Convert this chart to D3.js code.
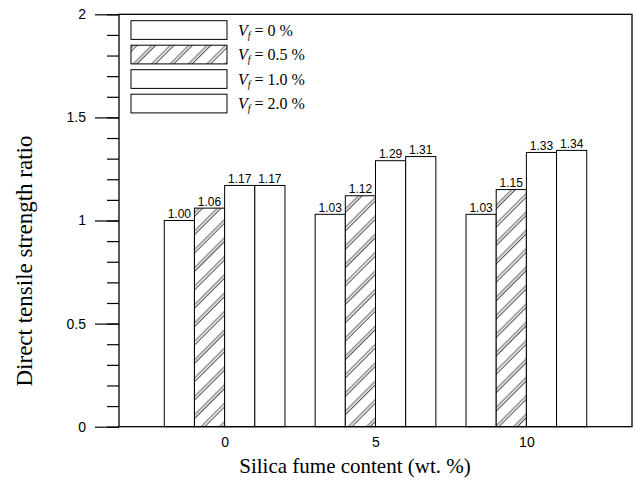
<!DOCTYPE html>
<html>
<head>
<meta charset="utf-8">
<script src="https://cdn.jsdelivr.net/npm/d3@7"></script>
<style>
	body { margin: 0; background: #fff; }
	svg { display: block; }
</style>
</head>
<body>
<div id="container"></div>
<script>
// data
var fumeContent = [0, 5, 10];
var fiberLabels = ["0", "0.5", "1.0", "2.0"];
var ratioVf0 = [1.00, 1.03, 1.03];
var ratioVf05 = [1.06, 1.12, 1.15];
var ratioVf10 = [1.17, 1.29, 1.33];
var ratioVf20 = [1.17, 1.31, 1.34];
var yTickValues = [0, 0.5, 1, 1.5, 2];

function makeChart(){
	var w = 635;
	var h = 488;

	var svg = d3.select("#container")
		.append("svg")
		.attr("width", w)
		.attr("height", h);

	// hatch for the 0.5 % series (pairs of thin diagonal lines)
	var defs = svg.append("defs");
	var pat = defs.append("pattern")
		.attr("id", "hatch")
		.attr("patternUnits", "userSpaceOnUse")
		.attr("width", 13)
		.attr("height", 13)
		.attr("patternTransform", "rotate(45)");
	pat.append("rect").attr("width", 13).attr("height", 13).attr("fill", "#fff");
	pat.append("line").attr("x1", 2).attr("x2", 2).attr("y1", 0).attr("y2", 13)
		.attr("stroke", "#000").attr("stroke-width", 0.7);
	pat.append("line").attr("x1", 4.5).attr("x2", 4.5).attr("y1", 0).attr("y2", 13)
		.attr("stroke", "#000").attr("stroke-width", 0.7);

	var xScale = d3.scaleLinear()
		.domain([-3.5, 13.5])
		.range([119, 632]);

	var yScale = d3.scaleLinear()
		.domain([0, 2])
		.range([426.7, 14.3]);

	var series = [
		{ label: fiberLabels[0], values: ratioVf0, fill: "#fff" },
		{ label: fiberLabels[1], values: ratioVf05, fill: "url(#hatch)" },
		{ label: fiberLabels[2], values: ratioVf10, fill: "#fff" },
		{ label: fiberLabels[3], values: ratioVf20, fill: "#fff" }
	];

	// bars, one unit wide, four per group
	var bars = svg.append("g").attr("class", "bars");
	series.forEach(function(s, si){
		var g = bars.append("g");
		g.selectAll("rect")
			.data(s.values)
			.enter()
			.append("rect")
			.attr("x", function(d, i){ return xScale(fumeContent[i] - 2 + si); })
			.attr("width", xScale(1) - xScale(0))
			.attr("y", function(d){ return yScale(d); })
			.attr("height", function(d){ return yScale(0) - yScale(d); })
			.attr("fill", s.fill)
			.attr("stroke", "#000")
			.attr("stroke-width", 1);

		g.selectAll("text")
			.data(s.values)
			.enter()
			.append("text")
			.text(function(d){ return d3.format(".2f")(d); })
			.attr("text-anchor", "middle")
			.attr("x", function(d, i){ return xScale(fumeContent[i] - 1.5 + si); })
			.attr("y", function(d){ return yScale(d) - 2.5; })
			.attr("font-family", "Liberation Sans, Arial, sans-serif")
			.attr("font-size", "12px")
			.attr("fill", "#000");
	});

	// y axis, major and minor ticks outside
	var minorAxis = d3.axisLeft(yScale)
		.tickValues(d3.range(0, 2.001, 0.1))
		.tickSize(12)
		.tickFormat("");
	svg.append("g")
		.attr("transform", "translate(" + xScale(-3.5) + ",0)")
		.call(minorAxis)
		.call(function(g){ g.select(".domain").remove(); })
		.selectAll("line").attr("stroke-width", 1.2);

	var majorAxis = d3.axisLeft(yScale)
		.tickValues(yTickValues)
		.tickSize(24)
		.tickPadding(9)
		.tickFormat(d3.format(""));
	var yAxisG = svg.append("g")
		.attr("transform", "translate(" + xScale(-3.5) + ",0)")
		.call(majorAxis)
		.call(function(g){ g.select(".domain").remove(); });
	yAxisG.selectAll("line").attr("stroke-width", 1.2);
	yAxisG.selectAll("text")
		.attr("font-family", "Liberation Sans, Arial, sans-serif")
		.attr("font-size", "14px")
		.attr("fill", "#000");

	// x axis labels only (no tick marks)
	var xAxis = d3.axisBottom(xScale)
		.tickValues(fumeContent)
		.tickSize(0)
		.tickPadding(10)
		.tickFormat(d3.format(""));
	var xAxisG = svg.append("g")
		.attr("transform", "translate(0," + yScale(0) + ")")
		.call(xAxis)
		.call(function(g){ g.select(".domain").remove(); });
	xAxisG.selectAll("text")
		.attr("font-family", "Liberation Sans, Arial, sans-serif")
		.attr("font-size", "14px")
		.attr("fill", "#000");

	// frame
	svg.append("rect")
		.attr("x", xScale(-3.5))
		.attr("y", yScale(2))
		.attr("width", xScale(13.5) - xScale(-3.5))
		.attr("height", yScale(0) - yScale(2))
		.attr("fill", "none")
		.attr("stroke", "#000")
		.attr("stroke-width", 1.3);

	// axis titles
	svg.append("text")
		.text("Silica fume content (wt. %)")
		.attr("text-anchor", "middle")
		.attr("x", 355)
		.attr("y", 473)
		.attr("font-family", "Liberation Serif, Times New Roman, serif")
		.attr("font-size", "21px")
		.attr("fill", "#000");

	svg.append("text")
		.text("Direct tensile strength ratio")
		.attr("text-anchor", "middle")
		.attr("transform", "translate(32,261) rotate(-90)")
		.attr("font-family", "Liberation Serif, Times New Roman, serif")
		.attr("font-size", "23px")
		.attr("fill", "#000");

	// legend
	var legend = svg.append("g").attr("class", "legend");
	var items = legend.selectAll("g")
		.data(series)
		.enter()
		.append("g")
		.attr("transform", function(d, i){ return "translate(131," + (20.7 + i * 24.5) + ")"; });

	items.append("rect")
		.attr("width", 96)
		.attr("height", 18.7)
		.attr("fill", function(d){ return d.fill; })
		.attr("stroke", "#000")
		.attr("stroke-width", 1);

	var lt = items.append("text")
		.attr("x", 107)
		.attr("y", 15)
		.attr("font-family", "Liberation Serif, Times New Roman, serif")
		.attr("font-size", "16px")
		.attr("fill", "#000");
	lt.append("tspan").attr("font-style", "italic").text("V");
	lt.append("tspan").attr("font-style", "italic").attr("font-size", "10px").attr("dy", 3).text("f");
	lt.append("tspan").attr("dy", -3).text(function(d){ return " = " + d.label + " %"; });
}

makeChart();
</script>
</body>
</html>
